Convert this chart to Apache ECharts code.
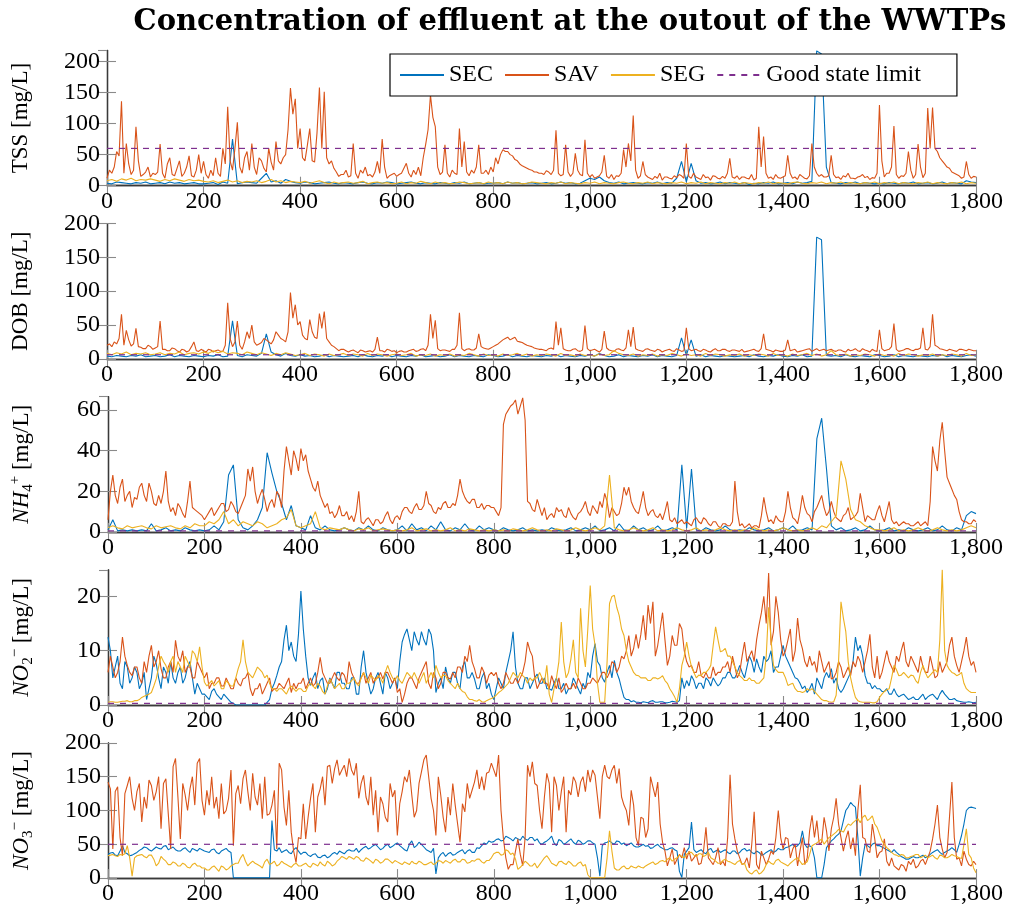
<!DOCTYPE html>
<html>
<head>
<meta charset="utf-8">
<script src="https://cdn.jsdelivr.net/npm/echarts@6/dist/echarts.min.js"></script>
<style>
  html, body { margin: 0; padding: 0; background: #fff; }
  #chart { width: 1013px; height: 913px; }
</style>
</head>
<body>
<div id="chart"></div>
<script>
// Daily effluent concentrations, read every 10 days (day 0 .. 1800);
// the noisier series also carry the readings at the days in between (5, 15, ...).
const DAY_STEP = 10;

const seriesNames = ['SEC', 'SAV', 'SEG', 'Good state limit'];

// ---- TSS [mg/L] ----
const tssSEC = [4,3,6,5,4,3,5,4,6,3, 4,5,3,6,4,5,3,4,5,3, 3,4,5,2,6,4,75,3,5,6, 5,4,12,20,6,8,4,10,7,5, 4,6,5,3,4,5,6,4,3,5, 4,3,5,6,4,3,5,4,6,5, 3,4,5,6,4,3,5,4,3,5, 4,3,5,4,6,3,4,5,3,4, 4,5,3,6,4,5,3,4,5,3, 4,5,3,4,6,4,5,3,4,8, 12,10,14,8,5,4,6,3,4,5, 4,3,5,4,6,3,5,4,12,39, 6,36,8,4,5,3,4,6,3,5, 4,3,5,2,4,3,5,4,6,3, 4,5,3,6,4,5,7,217,212,30, 5,4,3,5,4,6,3,5,4,3, 4,3,5,4,3,5,4,6,3,4, 5,3,4,6,3,5,4,3,8,6, 5];
const tssSAV = [12,20,55,136,68,18,95,15,22,14, 18,67,12,45,16,40,20,48,14,50, 39,12,16,20,60,127,25,102,20,55, 68,18,40,22,38,71,35,50,157,140, 92,40,92,38,158,151,35,28,15,18, 14,68,12,20,16,14,39,75,12,18, 15,20,36,14,18,16,66,146,95,18, 66,14,20,92,71,16,20,66,20,18, 22,35,58,55,48,40,32,28,25,22, 20,24,18,89,16,66,15,52,18,74, 14,12,16,49,12,10,15,58,68,113, 12,39,14,10,12,9,14,11,13,16, 68,12,14,10,13,9,15,11,12,44, 12,10,14,11,9,95,79,12,10,13, 14,49,12,10,15,11,68,20,18,14, 49,13,10,14,12,11,15,13,10,12, 130,14,20,96,12,15,55,12,67,13, 125,126,55,40,30,22,18,12,39,12, 14];
const tssSAVMid = [25,30,48,20,35,25,40,18,30,20, 22,20,35,18,28,15,30,16,25,20, 18,25,45,15,35,40,60,30,45,25, 30,45,28,60,25,40,45,90,115,60, 45,65,40,85,60,45,40,22,18,25, 16,20,25,30,18,22,20,30,16,20, 18,28,20,25,30,45,90,110,30,22, 20,25,18,30,22,25,30,20,25,30, 45,50,55,50,42,35,30,26,22,20, 18,22,25,20,18,22,20,25,16,20, 18,14,22,15,18,16,20,30,40,25, 16,18,12,15,20,14,12,16,18,12, 15,20,12,18,14,16,12,15,20,14, 16,14,12,18,12,30,20,14,18,12, 16,20,14,18,12,16,30,15,14,16, 18,14,16,20,12,14,18,15,13,20, 40,20,30,18,16,20,25,18,30,20, 60,60,45,35,28,20,16,14,18,15];
const tssSEG = [8,10,7,11,9,12,8,10,9,11, 9,7,10,8,11,9,7,10,8,9, 7,6,8,5,7,9,6,8,5,7, 6,8,5,7,10,6,8,5,7,6, 5,7,4,6,8,5,3,6,4,5, 6,4,5,7,3,5,6,4,5,3, 4,6,3,5,4,7,5,3,6,4, 5,3,4,6,5,3,4,5,3,6, 4,5,3,6,4,5,3,4,6,5, 4,3,5,4,6,3,5,4,3,5, 4,6,3,5,4,3,5,6,4,3, 5,4,6,3,5,4,3,5,4,6, 3,5,4,6,3,5,4,3,5,4, 6,3,5,4,3,5,4,6,3,5, 4,3,5,6,4,3,5,4,6,3, 5,4,6,3,5,4,3,5,4,6, 3,5,4,6,3,5,4,3,5,4, 6,3,5,4,3,5,4,6,3,5, 4];

// ---- DOB [mg/L] ----
const dobSEC = [4,3,5,4,3,5,4,6,3,4, 5,3,4,6,3,5,4,3,5,4, 3,5,4,6,3,4,56,5,3,6, 5,4,8,37,10,6,4,8,5,4, 6,4,5,3,4,6,3,5,4,3, 4,5,3,6,4,3,5,4,6,3, 5,4,3,5,4,6,3,4,5,3, 4,6,3,5,4,3,5,4,3,6, 5,3,4,6,3,5,4,3,5,4, 3,5,4,6,3,5,4,3,5,4, 6,4,8,5,3,4,6,3,5,4, 3,5,4,6,3,5,4,3,5,31, 5,28,4,6,3,5,4,3,5,4, 3,4,5,3,6,4,3,5,4,6, 4,3,5,4,6,3,4,180,176,5, 4,5,3,6,4,3,5,4,3,6, 5,3,4,6,3,5,4,3,5,4, 3,5,4,6,3,5,4,3,5,6, 4];
const dobSAV = [20,18,22,66,42,19,45,17,15,18, 16,56,14,12,15,10,13,12,25,11, 12,14,10,13,11,83,18,56,14,40, 50,20,24,28,22,40,30,25,98,80, 55,30,58,32,67,70,25,18,12,14, 10,13,9,12,11,10,32,12,14,11, 9,12,10,13,11,14,12,66,57,12, 13,11,14,68,12,15,13,37,16,14, 18,22,28,32,30,26,24,20,18,15, 14,12,16,55,46,13,12,15,11,49, 12,14,10,41,13,11,15,12,43,47, 13,11,15,12,14,10,13,12,15,11, 46,12,14,11,13,10,15,12,14,11, 13,11,10,12,14,11,37,13,10,12, 11,28,13,10,12,14,11,15,13,12, 14,11,13,10,12,15,11,13,10,12, 43,12,14,52,11,13,15,12,14,46, 13,66,18,14,12,13,11,14,12,13, 12];
const dobSAVMid = [22,25,30,20,28,22,18,15,20,14, 18,14,12,16,12,14,10,18,12,14, 10,13,12,11,20,30,25,20,25,30, 25,22,30,25,28,35,28,40,60,50, 35,28,40,30,45,30,20,15,14,12, 12,11,13,10,12,14,12,10,13,12, 11,10,12,14,12,15,20,30,15,13, 12,14,20,15,14,13,16,18,15,16, 20,25,30,28,32,25,22,19,16,14, 13,15,14,20,15,12,14,12,13,15, 13,12,14,16,12,14,13,16,18,15, 12,14,13,11,13,12,14,11,13,12, 15,13,12,14,11,13,12,14,12,13, 12,14,11,13,12,15,14,12,13,11, 13,12,14,11,13,15,13,12,14,13, 12,13,11,14,13,12,15,12,14,11, 15,13,18,14,12,15,13,14,16,14, 18,20,15,13,14,12,14,13,14,12];
const dobSEG = [8,6,9,7,10,6,8,7,9,6, 7,9,6,8,7,10,6,8,9,7, 10,8,12,9,11,7,9,8,6,10, 8,6,9,7,5,8,6,9,7,5, 6,8,5,7,6,4,7,5,6,8, 5,7,6,4,8,5,7,6,4,6, 7,5,6,8,4,6,5,7,4,6, 5,7,4,6,5,8,6,4,7,5, 6,4,7,5,6,8,5,7,4,6, 5,7,6,4,8,5,6,4,7,5, 6,4,7,5,6,12,8,6,5,7, 4,6,5,7,4,6,5,8,6,4, 7,5,6,4,8,5,7,6,4,6, 5,7,4,6,5,7,6,4,8,5, 6,4,7,5,6,8,5,7,4,6, 12,6,5,7,4,6,5,7,6,4, 7,5,6,4,8,5,7,6,4,6, 5,7,4,6,5,7,6,4,8,5, 6];

// ---- NH4+ [mg/L] ----
const nh4SEC = [1,6,0.5,1,0.5,1,0.5,1,0.5,4, 0.5,1,2,0.5,1,0.5,2,1,0.5,1, 0.5,1,3,1,5,28,33,6,2,1, 3,6,12,39,29,20,14,6,13,3, 2,1,8,2,1,3,1,0.5,1,2, 1,0.5,2,1,3,1,0.5,2,1,0.5, 1,3,0.5,4,1,2,0.5,3,1,5, 1,0.5,2,1,4,1,0.5,3,1,2, 1,0.5,2,1,0.5,1,2,0.5,1,0.5, 1,0.5,2,1,0.5,1,2,0.5,1,2, 1,3,0.5,1,2,0.5,4,1,0.5,3, 1,2,0.5,1,3,0.5,1,2,1,33, 2,31,1,0.5,2,1,0.5,1,3,1, 0.5,1,0.5,2,1,0.5,1,2,0.5,1, 2,1,3,0.5,1,2,1,46,56,31, 3,1,2,0.5,1,2,0.5,1,3,1, 0.5,1,2,0.5,1,0.5,2,1,0.5,1, 2,0.5,1,3,1,0.5,2,1,8,10, 9];
const nh4SAV = [6,28,14,26,18,12,16,24,15,20, 13,14,30,10,8,12,7,25,11,9, 6,10,8,12,14,11,13,9,15,31, 32,14,21,10,16,20,12,42,28,36, 41,38,26,20,18,12,9,7,13,8, 6,5,20,4,7,3,6,5,10,4, 8,10,12,9,14,11,20,13,9,11, 15,12,13,26,17,14,16,12,11,13, 12,8,53,60,63,58,66,15,11,16, 8,6,9,12,11,7,9,6,10,15, 8,11,15,19,7,10,9,22,22,12, 9,20,8,11,7,6,15,5,4,6, 5,3,7,4,6,3,5,2,4,3, 25,3,2,4,3,2,17,5,4,6, 5,20,7,4,18,9,5,12,18,8, 15,7,5,9,6,8,19,5,7,6, 13,5,15,4,3,5,4,3,5,4, 3,42,30,54,27,21,16,6,5,4, 5];
const nh4SAVMid = [20,18,22,15,20,17,22,18,24,14, 18,20,15,12,14,9,15,12,10,8, 8,12,10,14,10,15,10,12,18,25, 20,18,16,14,12,18,30,35,40,30, 35,30,22,25,15,14,10,9,8,10, 8,10,5,6,5,6,4,8,6,7, 6,12,10,12,11,13,14,10,12,14, 12,14,18,20,15,16,12,14,13,12, 10,12,58,62,65,62,55,14,10,12, 12,8,7,10,8,12,7,9,12,10, 13,9,12,15,12,8,14,18,15,10, 14,12,10,8,9,10,6,7,5,4, 4,6,5,7,4,5,3,4,3,5, 10,4,3,2,3,8,10,6,8,5, 10,12,6,10,12,8,10,15,12,10, 10,6,8,12,7,10,12,8,6,10, 8,10,6,5,4,4,3,4,3,5, 15,35,45,40,24,18,10,5,4,6];
const nh4SEG = [2,3,2,1.5,3,2,2.5,3,2,1.5, 3,2,2.5,3,2,1.5,3,2,4,3, 3,5,4,6,10,4,6,3,5,4, 3,5,4,2,3,4,6,7,11,3, 2,3,4,10,2,1,2,1.5,1,2, 1,0.5,1.5,1,2,0.5,1,1.5,1,0.5, 1,0.5,1,2,0.5,1,1.5,0.5,1,0.5, 1,2,0.5,1,0.5,1.5,1,0.5,1,0.5, 1,0.5,1,0.5,1.5,1,0.5,1,2,1, 0.5,1,0.5,1.5,1,0.5,1,2,1,0.5, 1,2,1,3,28,2,1,0.5,1,2, 1,0.5,1,2,0.5,1,0.5,1,2,1, 0.5,1,2,0.5,1,0.5,1,2,1,0.5, 1,0.5,1,0.5,2,1,0.5,1,0.5,1, 2,1,0.5,1,0.5,1,2,1,3,2, 5,8,35,26,11,6,5,3,2,1, 1,0.5,1,2,0.5,1,0.5,1,2,1, 0.5,1,2,1,0.5,1,0.5,1,2,3, 2];

// ---- NO2- [mg/L] ----
const no2SEC = [12.5,5,9,3,7,5,6,4,1,5, 7.6,3,6,8,4,7,5,8,2,3, 2,1,3,1.5,2,1,0.3,0,0,0, 0,0,0,0.5,3,5.4,8,14.7,11.6,8, 21,9,3.6,6,4.5,2,5,3,6,4, 3,5,2,10,4,3,6,2,5,4, 3,11.6,14,10,12,13.5,11,13,2.3,5, 7,4,6,3,8,5,4.8,3,6,4, 1,5,3,8,13.5,4,3,5,4,5.7, 4,3,2.7,5,3,2,3,4,2,3, 5,11.3,7.3,4.2,7.3,8.2,4.8,1.4,1,0.8, 0.5,0.6,0.4,0.8,0.5,0.6,0.4,0.7,0.5,5, 4.5,5.4,3,4,5,3.5,4.2,4,5,6, 5,7.3,5,9,6,7,9,8.5,6,7, 11,8,6,4.8,3,2.3,4,5,3,6, 6.7,5,2.3,4,6,12.5,11,5.4,4,3.6, 3,2.5,2,3,1.5,2,1,1.5,1,2, 1.5,2,1,2.7,1.5,1,0.8,0.6,0.5,0.5, 0.5];
const no2SECMid = [10,7,4,8,4,7,3,6,3,9, 5,7,4,5,6,4,7,5,4,2, 1.5,2.5,2,1,1.5,0.5,0,0,0,0, 0,0,0,1,4,7,12,10,9,13, 14,5,5,3,5,3,4,6,4,3, 5,2,7,6,2,5,4,6,3,5, 8,13,12,13.5,11,12,14,10,4,3, 5,6,4,7,5,6,3,5,3,2, 3,4,6,10,7,3,5,3,5,4, 5,3,4,3,4,3,5,3,4,6, 9,8,5,6,5,6,3,1,0.6,0.5, 0.4,0.5,0.7,0.5,0.6,0.4,0.5,0.6,0.8,3, 3.5,4.5,4,3,4.5,5,3.5,5,6,5, 6,6,7,8,8.5,6,8,10,7,9, 9,7,5,4,3.5,3,2,4,5,5, 4,3,3,5,8,10,9,4,3,3, 2.5,3,2,2,1.8,1.5,1.2,1,1.5,1, 1.8,1.5,2,2,1,1.2,0.7,0.5,0.6,0.4];
const no2SAV = [6,7,6,12.5,7.3,5.4,7,4,6,11, 8,6.7,5,8,11.9,8,6,7,5,7, 5,3,4,5,3.5,4,3,4,4.8,6, 1.7,3,2,4,2.5,3,3.5,4,2.3,3, 4,3,5,4,8.8,5,4,6,4.5,5.5, 8,5,4,6,5,4,5,4.8,6,4, 2.3,0.5,4,5,3,6,8,3,5,4, 6,4.8,5,7,9,11,6.7,5,6,5.5, 5.4,4,4,5,4,4,6,11.6,9,3, 5,4,5.4,3,2.3,4,3,3,4,3, 4,4.5,5,6,6,7.6,7,8.5,12.8,10.4, 10.4,16.5,18.4,19,11,17,7.3,12.8,11,14, 8,7.3,6,5.4,6,5,5.4,6,7,6, 7,6,11.6,9,8,14.7,20,24.3,13.5,17, 9,12,8,16,10.4,7,7.3,6,8,7, 4.8,6,7,6,5.4,7,8,8,13,5, 4.8,8,8,6,8,11.6,7,8,6,7, 6,7,5.4,6,8,12.5,7.3,8,12.5,7.3, 6];
const no2SAVMid = [9,5,8,9,6,7,5,8,9,7, 10,5,7,6,9,10,7,5,8,6, 6,4,5,3.5,5,3,5,3.5,5,3, 3,4,3,5,3,4,3,5,4,4, 5,4,3.5,6,6,4,5,5,6,4, 6,4,5,4,6,5,6,6,5,5, 3,2,5,4,5,7,4,6,3,6, 5,6,7,6,8,8,5,7,4,6, 6,3,6,4,5,5,8,10,5,4, 4,3,4,5,3,3,4,5,3,4, 5,4,6,5,8,6,9,10,9,13, 13,12,15,9,14,12,9,11,15,10, 7,6,8,5,5,7,6,7,8,9, 5,9,8,10,12,17,15,11,20,12, 10,14,10,12,8,9,8,10,6,8, 5,8,5,7,8,9,6,10,7,9, 6,10,7,9,10,8,9,7,9,6, 9,5,8,7,11,9,6,10,9,8];
const no2SEG = [0.5,0.6,0.5,0.7,0.8,0.6,0.8,1.4,1.8,2.3, 4.8,9,7.3,8,6,7,9,7,9.4,10.7, 4.2,4,3.5,4.5,3,4,3.5,6.7,12,6, 5,7,6,5.5,3,2.5,3,2,3.5,2.5, 3,2.5,4,3,3.5,2,4.8,3,4,3, 4,5,3.5,6,4,5,5.4,4,7.3,5, 5.4,4,6,5,5,5,4,6,7.3,5, 5.4,4,3,3,2.3,1,0.8,1,0.5,1, 1.4,2.3,3,4,6,5,5.4,4,4.5,5, 5,7.3,0.5,5,15.3,5,8.5,6,17.8,7, 22,11,0.5,0.5,18.7,20.2,16.5,12.8,8,6, 5.4,5,4.5,5,4.8,5.4,4,2.3,0.5,7.3, 11.6,7,5,5.4,6,7.3,14.4,9.8,10.4,9, 7,5.4,4.5,5,4.5,4,5,18,7.3,6, 6,3.6,4,2.5,2.3,3,3,2,1,0.8, 0.5,1.8,19,13.5,5,1.4,0.6,0.5,0.5,0.4, 1.4,2.5,3,7.3,5.4,6,5,5.4,4,7.3, 5,6,6,24.9,7.3,6,5.4,6,3,2.3, 2.3];
const no2SEGMid = [0.6,0.5,0.6,0.7,0.6,0.8,1,1.6,2,3.5, 7,8,6,9,8,6,8,10,8,7, 3.5,4.5,4,3,4.5,3.5,5,8,8,5.5, 6,6.5,5,4,3,3,2.5,3,3,3, 2.5,3.5,3.5,4,2.5,3.5,4,3.5,3,4, 4.5,4,5,5,5.5,4.5,5,6,6,4.5, 4.5,5,5.5,6,4,6,5,5,6,5.5, 4.5,3.5,4,2.5,1.5,1,0.7,0.6,0.8,1.2, 1.8,2.6,3.5,5,5.5,6,5,5,5,6, 4,2,3,8,8,6,12,5,10,14, 14,4,0.5,8,20,18,14,10,7,5.5, 5,5,4.5,5,5,4.5,3,1.5,3,9, 9,6,5.5,6,6.5,11,12,10,9,8, 6,5,4.5,4.5,4,4.5,9,12,6.5,6, 5,3.8,3,2.5,2.5,2.7,2.5,1.5,0.8,0.6, 0.6,8,16,8,3,0.8,0.5,0.5,0.4,0.6, 2,2.8,5,6.5,5.5,5.5,5.5,4.5,6,6, 5.5,6.5,12,10,6.5,5.8,5.6,4,2.6,2.3];

// ---- NO3- [mg/L] ----
const no3SEC = [35,38,33,48,36,34,38,43,45,40, 46,43,48,44,42,40,45,38,42,44, 40,38,43,36,42,40,0.5,0.5,0.5,0.5, 0.5,0.5,0.5,0.5,85,40,38,42,36,45, 35,38,32,36,30,34,32,38,40,36, 42,40,38,45,43,48,46,44,50,47, 52,45,40,55,48,50,42,38,6,35, 32,38,35,40,36,42,38,44,52,55, 54,58,56,60,55,58,62,56,60,58, 50,55,62,48,55,52,58,50,54,52, 55,50,3,52,55,50,54,52,50,48, 46,50,48,45,50,44,42,45,40,1, 40,83,38,42,36,44,40,38,42,36, 40,38,44,42,36,38,35,40,38,44, 42,46,50,48,70,45,45,0.5,0.5,45, 55,62,70,100,112,105,3,50,45,52, 48,44,40,42,35,30,28,32,30,34, 32,38,42,35,40,45,38,63,100,105, 103];
const no3SECMid = [37,34,40,38,33,36,41,46,42,43, 44,47,42,46,40,43,41,44,40,42, 39,42,38,40,44,38,0.5,0.5,0.5,0.5, 0.5,0.5,0.5,0.5,42,45,40,38,42,40, 38,34,35,31,33,30,36,35,38,40, 40,44,42,47,45,50,42,48,45,50, 48,42,50,45,53,46,40,44,30,38, 36,34,38,42,40,38,45,48,50,53, 57,55,62,58,60,56,58,60,55,52, 53,58,52,57,50,55,53,56,50,55, 52,30,48,53,52,55,50,48,52,46, 48,47,44,48,46,42,44,42,10,35, 45,42,40,38,42,38,42,40,38,40, 36,42,40,38,40,34,38,42,40,42, 45,48,46,52,50,48,30,0.5,20,50, 58,65,85,105,108,60,30,48,50,48, 46,42,38,38,32,28,30,30,32,30, 35,40,38,38,42,42,50,80,104,104];
const no3SAV = [142,43,135,33,137,118,128,83,103,137, 128,73,147,43,177,58,123,132,108,177, 93,108,103,88,95,118,48,137,147,128, 155,108,88,93,108,43,160,78,68,23, 58,58,118,68,132,108,167,162,152,167, 177,152,118,152,108,93,68,110,83,120, 63,128,142,123,100,157,182,118,63,123, 68,93,108,53,98,118,142,132,130,157, 160,182,58,13,20,58,18,167,172,137, 73,155,68,137,128,68,123,142,142,128, 142,152,88,167,147,167,162,108,78,108, 48,88,73,135,142,53,18,43,28,30, 28,25,35,22,75,25,30,20,18,153, 58,30,22,15,98,13,30,28,35,100, 43,58,43,18,60,30,93,85,53,70, 73,118,60,58,43,33,138,58,38,58, 38,58,18,18,12,18,25,28,18,28, 30,58,108,43,38,142,28,18,28,18, 20];
const no3SAVMid = [132,128,60,125,150,100,140,120,145,115, 150,140,95,165,120,140,100,150,170,115, 130,150,120,140,100,160,125,110,160,100, 120,140,150,95,130,170,105,130,40,60, 110,90,140,120,150,165,140,175,160,150, 160,170,140,120,150,130,120,90,140,130, 110,150,160,90,140,175,150,100,150,90, 120,140,80,110,140,130,160,150,155,170, 150,100,30,20,40,35,60,150,140,100, 120,140,150,100,150,130,150,120,150,160, 160,120,150,150,160,140,120,100,130,60, 90,60,150,120,80,40,30,20,35,45, 40,30,20,40,30,20,45,25,60,80, 40,20,30,50,20,40,20,40,60,60, 60,30,50,40,20,70,60,50,90,40, 90,80,40,70,60,100,60,40,80,30, 40,25,30,15,20,10,20,15,25,20, 40,80,60,30,90,60,30,40,20,25];
const no3SEG = [33,35,32,34,48,3,33,35,30,34, 18,32,25,20,22,18,20,15,22,18, 15,12,18,10,16,14,20,22,35,18, 25,20,15,28,22,18,25,20,16,22, 18,22,16,20,24,18,22,20,28,30, 32,28,30,25,28,22,26,24,28,22, 24,20,22,25,21,23,20,24,22,25, 26,22,28,24,27,23,25,28,22,26, 36,38,35,40,37,13,20,22,18,15, 25,33,22,18,25,20,22,18,24,20, 0.5,0.5,0.5,0.5,70,15,12,18,14,16, 18,15,20,24,22,26,28,25,30,32, 35,38,32,36,34,30,25,22,28,24, 20,26,22,8,10,6,12,25,20,28, 22,18,25,30,20,24,48,52,58,55, 62,68,70,75,78,85,82,93,88,80, 65,50,42,35,32,34,30,33,35,32, 30,34,28,33,30,35,32,29,73,30, 8];
const no3SEGMid = [34,33,35,36,30,30,34,32,34,28, 22,28,20,24,18,22,16,20,18,15, 12,16,14,18,12,18,22,30,25,22, 22,18,24,20,25,20,22,18,20,18, 20,18,22,18,20,25,18,25,32,28, 30,32,26,30,25,28,22,28,25,26, 22,24,20,22,25,20,22,20,26,22, 24,26,24,28,22,26,28,24,26,30, 38,34,42,35,28,16,25,18,22,20, 30,28,20,24,22,25,18,22,18,5, 0.5,0.5,0.5,30,40,12,16,14,18,15, 16,18,22,20,25,24,30,28,34,30, 38,34,36,32,38,28,22,26,25,22, 24,20,12,6,12,8,20,22,26,24, 20,22,28,25,22,35,50,55,50,60, 65,72,68,80,82,88,90,85,92,75, 55,45,38,34,35,30,32,35,30,34, 32,30,34,30,32,33,30,50,35,15];

// Good state limits per parameter [mg/L]
const goodStateLimits = [60, 6, 0.5, 0.3, 50];

const FONT = '"Liberation Serif", "Times New Roman", serif';
const TITLE_FONT = '"DejaVu Serif", serif';
const COLORS = { SEC: '#0072BD', SAV: '#D95319', SEG: '#EDB120', limit: '#7E2F8E' };

const panels = [
  { label: '{r|TSS [mg/L]}', sec: [tssSEC], sav: [tssSAV, tssSAVMid], seg: [tssSEG], max: 217.6, interval: 50, showMax: false },
  { label: '{r|DOB [mg/L]}', sec: [dobSEC], sav: [dobSAV, dobSAVMid], seg: [dobSEG], max: 200, interval: 50, showMax: true },
  { label: '{m|NH}{sub|4}{sup|+}{r| [mg/L]}', sec: [nh4SEC], sav: [nh4SAV, nh4SAVMid], seg: [nh4SEG], max: 66.6, interval: 20, showMax: false },
  { label: '{m|NO}{sub|2}{sup|\u2212}{r| [mg/L]}', sec: [no2SEC, no2SECMid], sav: [no2SAV, no2SAVMid], seg: [no2SEG, no2SEGMid], max: 24.9, interval: 10, showMax: false },
  { label: '{m|NO}{sub|3}{sup|\u2212}{r| [mg/L]}', sec: [no3SEC, no3SECMid], sav: [no3SAV, no3SAVMid], seg: [no3SEG, no3SEGMid], max: 200, interval: 50, showMax: true }
];

const GRID_LEFT = 107, GRID_WIDTH = 869, GRID_TOP0 = 50.5, GRID_STEP = 173.1, GRID_HEIGHT = 135.2;
const FRAME = { color: '#3a3a3a', width: 1.3 };
const TICK = { color: '#8a8a8a', width: 1.1 };

function commaFormat(v) {
  return Number(v).toLocaleString('en-US');
}
// [values at day 0,10,20,...] plus optional [values at day 5,15,25,...]
function toPairs(parts) {
  const main = parts[0], mid = parts[1];
  const out = [];
  main.forEach((v, i) => {
    out.push([i * DAY_STEP, v]);
    if (mid && i < mid.length) out.push([i * DAY_STEP + DAY_STEP / 2, mid[i]]);
  });
  return out;
}

const grids = [], xAxes = [], yAxes = [], series = [];
const rich = {
  r: { fontFamily: FONT, fontSize: 23, color: '#000', lineHeight: 28, verticalAlign: 'middle' },
  m: { fontFamily: FONT, fontSize: 23, fontStyle: 'italic', color: '#000', lineHeight: 28, verticalAlign: 'middle' },
  sub: { fontFamily: FONT, fontSize: 15, color: '#000', verticalAlign: 'bottom' },
  sup: { fontFamily: FONT, fontSize: 15, color: '#000', verticalAlign: 'top' }
};

panels.forEach((p, i) => {
  grids.push({ left: GRID_LEFT, width: GRID_WIDTH, top: GRID_TOP0 + i * GRID_STEP, height: GRID_HEIGHT, containLabel: false });
  const xCommon = { type: 'value', gridIndex: i, min: 0, max: 1800, interval: 200, splitLine: { show: false },
    axisLine: { show: true, lineStyle: FRAME }, axisTick: { show: true, inside: true, length: 9, lineStyle: TICK } };
  xAxes.push(Object.assign({}, xCommon, { position: 'bottom',
    axisLabel: { show: true, fontFamily: FONT, fontSize: 24, color: '#000', margin: 4, formatter: commaFormat } }));
  xAxes.push(Object.assign({}, xCommon, { position: 'top', axisLabel: { show: false } }));
  const yCommon = { type: 'value', gridIndex: i, min: 0, max: p.max, interval: p.interval, splitLine: { show: false },
    axisLine: { show: true, lineStyle: FRAME }, axisTick: { show: true, inside: true, length: 9, lineStyle: TICK } };
  yAxes.push(Object.assign({}, yCommon, { position: 'left',
    name: p.label, nameLocation: 'middle', nameRotate: 90, nameGap: 72,
    nameTextStyle: { rich: rich },
    axisLabel: { show: true, fontFamily: FONT, fontSize: 24, color: '#000', margin: 7, showMaxLabel: p.showMax } }));
  yAxes.push(Object.assign({}, yCommon, { position: 'right', axisLabel: { show: false } }));

  const ax = { xAxisIndex: 2 * i, yAxisIndex: 2 * i };
  [['SEC', p.sec], ['SAV', p.sav], ['SEG', p.seg]].forEach(([name, parts]) => {
    series.push(Object.assign({ type: 'line', name: name, data: toPairs(parts), symbol: 'none',
      lineStyle: { color: COLORS[name], width: 1.1 }, itemStyle: { color: COLORS[name] },
      animation: false, silent: true }, ax));
  });
  series.push(Object.assign({ type: 'line', name: 'Good state limit',
    data: [[0, goodStateLimits[i]], [1800, goodStateLimits[i]]], symbol: 'none',
    lineStyle: { color: COLORS.limit, width: 1.2, type: [6, 6] }, itemStyle: { color: COLORS.limit },
    animation: false, silent: true, z: 3 }, ax));
});

const chart = echarts.init(document.getElementById('chart'), null, { renderer: 'canvas' });
chart.setOption({
  backgroundColor: '#fff',
  animation: false,
  title: {
    text: 'Concentration of effluent at the outout of the WWTPs',
    left: 565, top: 3, textAlign: 'center',
    textStyle: { fontFamily: TITLE_FONT, fontWeight: 'bold', fontSize: 29, color: '#000' }
  },
  legend: {
    data: seriesNames, left: 390, top: 54, orient: 'horizontal',
    itemWidth: 44, itemHeight: 14, itemGap: 11,
    padding: [9, 36, 9, 9],
    borderColor: '#000', borderWidth: 1.2, backgroundColor: '#fff',
    selectedMode: false,
    itemStyle: { opacity: 0 },
    textStyle: { fontFamily: FONT, fontSize: 24, color: '#000' }
  },
  grid: grids,
  xAxis: xAxes,
  yAxis: yAxes,
  series: series
});
</script>
</body>
</html>
